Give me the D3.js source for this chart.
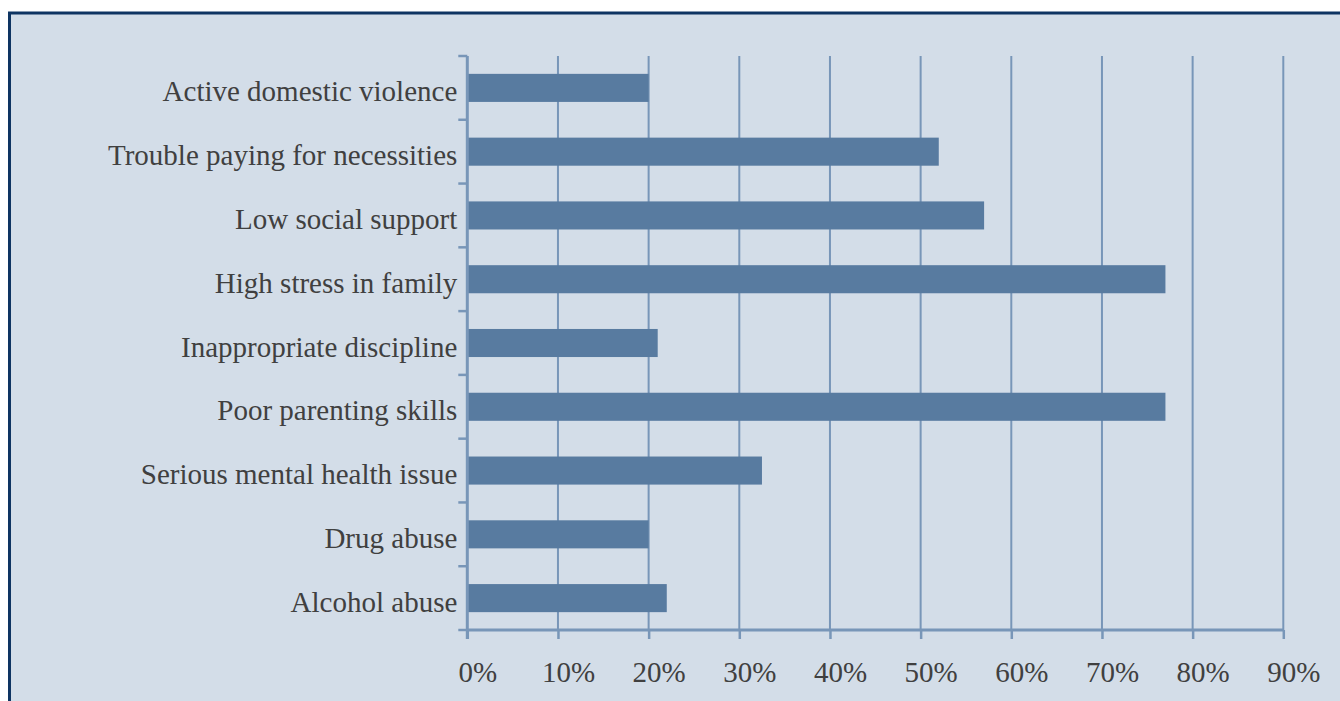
<!DOCTYPE html>
<html>
<head>
<meta charset="utf-8">
<script src="https://cdn.jsdelivr.net/npm/d3@7"></script>
<style>
  html, body { margin: 0; padding: 0; background: #ffffff; }
  svg { display: block; }
</style>
</head>
<body>
<svg id="chart" width="1340" height="701"></svg>
<script>
const categories = [
  "Active domestic violence",
  "Trouble paying for necessities",
  "Low social support",
  "High stress in family",
  "Inappropriate discipline",
  "Poor parenting skills",
  "Serious mental health issue",
  "Drug abuse",
  "Alcohol abuse"
];
const values = [20, 52, 57, 77, 21, 77, 32.5, 20, 22];
const tickValues = [0, 10, 20, 30, 40, 50, 60, 70, 80, 90];
const tickLabels = ["0%", "10%", "20%", "30%", "40%", "50%", "60%", "70%", "80%", "90%"];

(function () {
const svg = d3.select("#chart");
const W = 1340, H = 701;

// panel background + frame
svg.append("rect").attr("x", 9).attr("y", 12).attr("width", W).attr("height", H)
  .attr("fill", "#d3dde8");
svg.append("line").attr("x1", 8).attr("x2", W).attr("y1", 13).attr("y2", 13)
  .attr("stroke", "#0e3462").attr("stroke-width", 3);
svg.append("line").attr("x1", 9.5).attr("x2", 9.5).attr("y1", 12).attr("y2", H)
  .attr("stroke", "#0e3462").attr("stroke-width", 3);

const pLeft = 467.3, pRight = 1283.3, pTop = 56, pBottom = 630;
const x = d3.scaleLinear().domain([0, 90]).range([pLeft, pRight]);
const y = d3.scaleBand().domain(categories).range([pTop, pBottom]).paddingInner(0.56).paddingOuter(0.28);
const yb = d3.scaleLinear().domain([0, categories.length]).range([pTop, pBottom]);

const gridColor = "#7896b8";
const font = "'Liberation Serif', 'DejaVu Serif', serif";
const textColor = "#404040";

// vertical gridlines
svg.append("g").selectAll("line").data(tickValues.slice(1)).join("line")
  .attr("x1", d => x(d)).attr("x2", d => x(d))
  .attr("y1", pTop).attr("y2", pBottom)
  .attr("stroke", gridColor).attr("stroke-width", 2);

// bars
svg.append("g").selectAll("rect").data(categories).join("rect")
  .attr("x", x(0))
  .attr("y", d => y(d))
  .attr("width", (d, i) => x(values[i]) - x(0))
  .attr("height", y.bandwidth())
  .attr("fill", "#587ba0");

// x axis
const xAxis = d3.axisBottom(x).tickValues(tickValues).tickSize(9)
  .tickFormat((d, i) => tickLabels[i]);
const gx = svg.append("g").attr("transform", `translate(0,${pBottom})`).call(xAxis);
gx.select(".domain").attr("stroke", gridColor).attr("stroke-width", 3)
  .attr("d", `M${pLeft},0H${pRight}`);
gx.selectAll(".tick line").attr("stroke", gridColor).attr("stroke-width", 2.5);
gx.selectAll(".tick text").attr("fill", textColor).attr("font-family", font)
  .attr("font-size", 29).attr("dy", 0).attr("y", 52).attr("dx", 10);

// y axis (ticks at category boundaries)
const gy = svg.append("g").attr("transform", `translate(${pLeft},0)`);
gy.append("line").attr("x1", 0).attr("x2", 0).attr("y1", pTop).attr("y2", pBottom + 9)
  .attr("stroke", gridColor).attr("stroke-width", 3);
gy.selectAll("line.t").data(d3.range(categories.length + 1)).join("line").attr("class", "t")
  .attr("x1", -9).attr("x2", 0).attr("y1", d => yb(d)).attr("y2", d => yb(d))
  .attr("stroke", gridColor).attr("stroke-width", 2.5);
gy.selectAll("text").data(categories).join("text")
  .attr("x", -10).attr("y", d => y(d) + y.bandwidth() / 2 + 13.5)
  .attr("text-anchor", "end")
  .attr("fill", textColor).attr("font-family", font).attr("font-size", 29)
  .text(d => d);
})();
</script>
</body>
</html>
